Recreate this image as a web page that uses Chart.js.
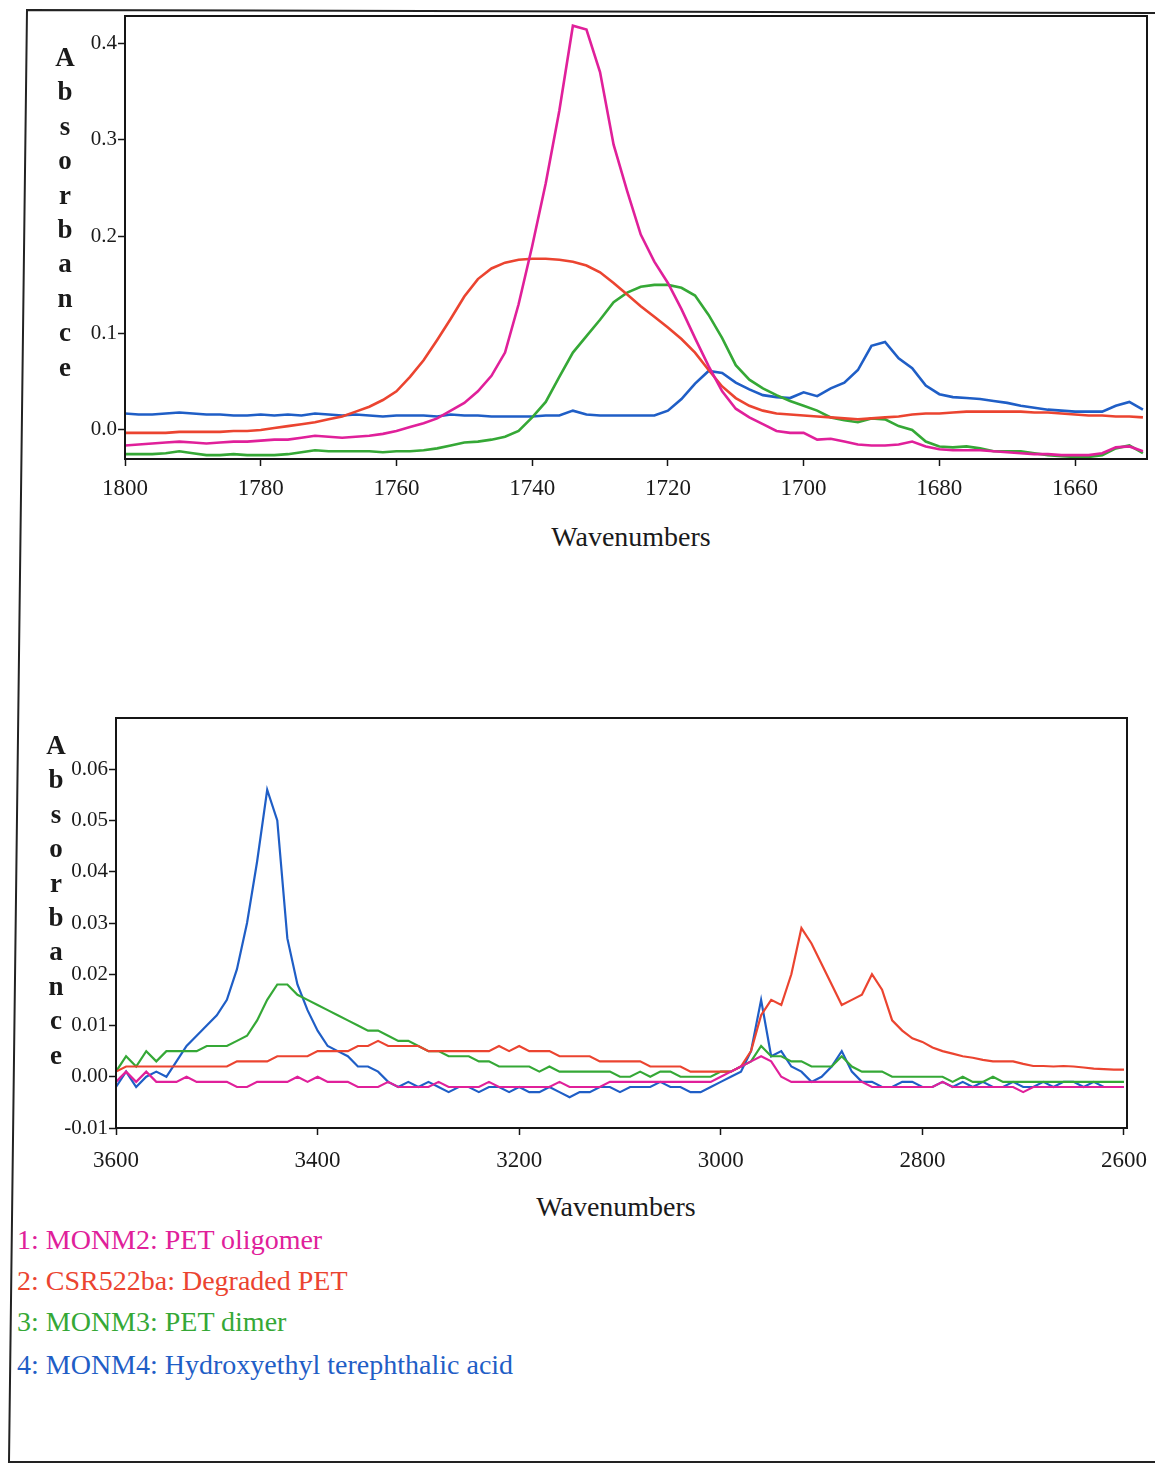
<!DOCTYPE html>
<html>
<head>
<meta charset="utf-8">
<script src="https://cdn.jsdelivr.net/npm/chart.js@4.4.1/dist/chart.umd.min.js"></script>
<style>
  html, body { margin: 0; padding: 0; background: #fff; }
  #page { position: relative; width: 1155px; height: 1466px; overflow: hidden; font-family: "Liberation Serif", "DejaVu Serif", serif; }
  canvas { position: absolute; }
  .ytitle { position: absolute; width: 30px; text-align: center; font-size: 27px; font-weight: bold; line-height: 34.4px; color: #1a1a1a; }
  .xtitle { position: absolute; width: 400px; text-align: center; font-size: 28px; line-height: 32px; color: #1a1a1a; }
  .key { position: absolute; left: 17px; font-size: 28px; line-height: 32px; white-space: nowrap; }
</style>
</head>
<body>
<div id="page">
  <svg width="1155" height="1466" style="position:absolute;left:0;top:0">
    <polyline points="1155,13 27,10 9,1462 1155,1462" fill="none" stroke="#222" stroke-width="2"/>
  </svg>
  <canvas id="top" width="1130" height="520" style="left:25px;top:0"></canvas>
  <canvas id="bottom" width="1139" height="480" style="left:16px;top:700px"></canvas>
  <div class="ytitle" style="left:50px;top:40px">A<br>b<br>s<br>o<br>r<br>b<br>a<br>n<br>c<br>e</div>
  <div class="ytitle" style="left:41px;top:728px">A<br>b<br>s<br>o<br>r<br>b<br>a<br>n<br>c<br>e</div>
  <div class="xtitle" style="left:431px;top:521px">Wavenumbers</div>
  <div class="xtitle" style="left:416px;top:1191px">Wavenumbers</div>
  <div id="keys"></div>
</div>
<script>
// IR spectra of PET samples: carbonyl region (top) and OH/CH region (bottom).
const seriesNames = ["1: MONM2: PET oligomer", "2: CSR522ba: Degraded PET", "3: MONM3: PET dimer", "4: MONM4: Hydroxyethyl terephthalic acid"];
const seriesColors = ["#e0209a", "#eb4430", "#35a836", "#1f5ec6"];

// top panel, 1800-1650 cm-1
const topWavenumbers = [
  1800, 1798, 1796, 1794, 1792, 1790, 1788, 1786, 1784, 1782,
  1780, 1778, 1776, 1774, 1772, 1770, 1768, 1766, 1764, 1762,
  1760, 1758, 1756, 1754, 1752, 1750, 1748, 1746, 1744, 1742,
  1740, 1738, 1736, 1734, 1732, 1730, 1728, 1726, 1724, 1722,
  1720, 1718, 1716, 1714, 1712, 1710, 1708, 1706, 1704, 1702,
  1700, 1698, 1696, 1694, 1692, 1690, 1688, 1686, 1684, 1682,
  1680, 1678, 1676, 1674, 1672, 1670, 1668, 1666, 1664, 1662,
  1660, 1658, 1656, 1654, 1652, 1650
];
const topOligomer = [
  -0.016, -0.015, -0.014, -0.013, -0.012, -0.013, -0.014, -0.013, -0.012, -0.012,
  -0.011, -0.010, -0.010, -0.008, -0.006, -0.007, -0.008, -0.007, -0.006, -0.004,
  -0.001, 0.003, 0.007, 0.012, 0.020, 0.028, 0.040, 0.056, 0.080, 0.130,
  0.190, 0.255, 0.330, 0.418, 0.414, 0.370, 0.295, 0.247, 0.202, 0.174,
  0.152, 0.125, 0.095, 0.066, 0.040, 0.022, 0.013, 0.006, -0.001, -0.003,
  -0.003, -0.010, -0.009, -0.012, -0.015, -0.016, -0.016, -0.015, -0.012, -0.017,
  -0.020, -0.021, -0.021, -0.021, -0.022, -0.023, -0.024, -0.025, -0.025, -0.026,
  -0.026, -0.026, -0.024, -0.018, -0.017, -0.022
];
const topDegraded = [
  -0.003, -0.003, -0.003, -0.003, -0.002, -0.002, -0.002, -0.002, -0.001, -0.001,
  0.000, 0.002, 0.004, 0.006, 0.008, 0.011, 0.014, 0.019, 0.024, 0.031,
  0.040, 0.055, 0.072, 0.093, 0.115, 0.138, 0.156, 0.167, 0.173, 0.176,
  0.177, 0.177, 0.176, 0.174, 0.170, 0.163, 0.152, 0.140, 0.128, 0.117,
  0.106, 0.094, 0.080, 0.062, 0.045, 0.033, 0.025, 0.020, 0.017, 0.016,
  0.015, 0.014, 0.013, 0.012, 0.011, 0.012, 0.013, 0.014, 0.016, 0.017,
  0.017, 0.018, 0.019, 0.019, 0.019, 0.019, 0.019, 0.018, 0.018, 0.017,
  0.016, 0.015, 0.015, 0.014, 0.014, 0.013
];
const topDimer = [
  -0.025, -0.025, -0.025, -0.024, -0.022, -0.024, -0.026, -0.026, -0.025, -0.026,
  -0.026, -0.026, -0.025, -0.023, -0.021, -0.022, -0.022, -0.022, -0.022, -0.023,
  -0.022, -0.022, -0.021, -0.019, -0.016, -0.013, -0.012, -0.010, -0.007, -0.001,
  0.013, 0.029, 0.055, 0.080, 0.097, 0.114, 0.132, 0.142, 0.148, 0.150,
  0.150, 0.147, 0.139, 0.119, 0.095, 0.067, 0.052, 0.043, 0.036, 0.030,
  0.025, 0.020, 0.013, 0.010, 0.008, 0.012, 0.011, 0.004, 0.000, -0.012,
  -0.017, -0.018, -0.017, -0.019, -0.022, -0.022, -0.022, -0.024, -0.026, -0.027,
  -0.028, -0.028, -0.026, -0.019, -0.016, -0.024
];
const topAcid = [
  0.017, 0.016, 0.016, 0.017, 0.018, 0.017, 0.016, 0.016, 0.015, 0.015,
  0.016, 0.015, 0.016, 0.015, 0.017, 0.016, 0.015, 0.016, 0.015, 0.014,
  0.015, 0.015, 0.015, 0.014, 0.016, 0.015, 0.015, 0.014, 0.014, 0.014,
  0.014, 0.015, 0.015, 0.020, 0.016, 0.015, 0.015, 0.015, 0.015, 0.015,
  0.020, 0.032, 0.048, 0.061, 0.059, 0.049, 0.042, 0.036, 0.034, 0.033,
  0.039, 0.035, 0.043, 0.049, 0.062, 0.087, 0.091, 0.074, 0.064, 0.046,
  0.037, 0.034, 0.033, 0.032, 0.030, 0.028, 0.025, 0.023, 0.021, 0.020,
  0.019, 0.019, 0.019, 0.025, 0.029, 0.021
];
const topXTicks = [1800, 1780, 1760, 1740, 1720, 1700, 1680, 1660];
const topYTicks = [0.0, 0.1, 0.2, 0.3, 0.4];

// bottom panel, 3600-2600 cm-1
const bottomWavenumbers = [
  3600, 3590, 3580, 3570, 3560, 3550, 3540, 3530, 3520, 3510,
  3500, 3490, 3480, 3470, 3460, 3450, 3440, 3430, 3420, 3410,
  3400, 3390, 3380, 3370, 3360, 3350, 3340, 3330, 3320, 3310,
  3300, 3290, 3280, 3270, 3260, 3250, 3240, 3230, 3220, 3210,
  3200, 3190, 3180, 3170, 3160, 3150, 3140, 3130, 3120, 3110,
  3100, 3090, 3080, 3070, 3060, 3050, 3040, 3030, 3020, 3010,
  3000, 2990, 2980, 2970, 2960, 2950, 2940, 2930, 2920, 2910,
  2900, 2890, 2880, 2870, 2860, 2850, 2840, 2830, 2820, 2810,
  2800, 2790, 2780, 2770, 2760, 2750, 2740, 2730, 2720, 2710,
  2700, 2690, 2680, 2670, 2660, 2650, 2640, 2630, 2620, 2610,
  2600
];
const bottomOligomer = [
  -0.001, 0.001, -0.001, 0.001, -0.001, -0.001, -0.001, 0.000, -0.001, -0.001,
  -0.001, -0.001, -0.002, -0.002, -0.001, -0.001, -0.001, -0.001, 0.000, -0.001,
  0.000, -0.001, -0.001, -0.001, -0.002, -0.002, -0.002, -0.001, -0.002, -0.002,
  -0.002, -0.002, -0.001, -0.002, -0.002, -0.002, -0.002, -0.001, -0.002, -0.002,
  -0.002, -0.002, -0.002, -0.002, -0.001, -0.002, -0.002, -0.002, -0.002, -0.001,
  -0.001, -0.001, -0.001, -0.001, -0.001, -0.001, -0.001, -0.001, -0.001, -0.001,
  0.000, 0.001, 0.002, 0.003, 0.004, 0.003, 0.000, -0.001, -0.001, -0.001,
  -0.001, -0.001, -0.001, -0.001, -0.001, -0.002, -0.002, -0.002, -0.002, -0.002,
  -0.002, -0.002, -0.001, -0.002, -0.002, -0.002, -0.002, -0.002, -0.002, -0.002,
  -0.003, -0.002, -0.002, -0.002, -0.002, -0.002, -0.002, -0.002, -0.002, -0.002,
  -0.002
];
const bottomDegraded = [
  0.001, 0.002, 0.002, 0.002, 0.002, 0.002, 0.002, 0.002, 0.002, 0.002,
  0.002, 0.002, 0.003, 0.003, 0.003, 0.003, 0.004, 0.004, 0.004, 0.004,
  0.005, 0.005, 0.005, 0.005, 0.006, 0.006, 0.007, 0.006, 0.006, 0.006,
  0.006, 0.005, 0.005, 0.005, 0.005, 0.005, 0.005, 0.005, 0.006, 0.005,
  0.006, 0.005, 0.005, 0.005, 0.004, 0.004, 0.004, 0.004, 0.003, 0.003,
  0.003, 0.003, 0.003, 0.002, 0.002, 0.002, 0.002, 0.001, 0.001, 0.001,
  0.001, 0.001, 0.002, 0.005, 0.012, 0.015, 0.014, 0.020, 0.029, 0.026,
  0.022, 0.018, 0.014, 0.015, 0.016, 0.020, 0.017, 0.011, 0.009, 0.0075,
  0.0068, 0.0057, 0.005, 0.0045, 0.004, 0.0037, 0.0033, 0.003, 0.003, 0.003,
  0.0025, 0.0021, 0.0021, 0.002, 0.0021, 0.002, 0.0018, 0.0016, 0.0015, 0.0014,
  0.0014
];
const bottomDimer = [
  0.001, 0.004, 0.002, 0.005, 0.003, 0.005, 0.005, 0.005, 0.005, 0.006,
  0.006, 0.006, 0.007, 0.008, 0.011, 0.015, 0.018, 0.018, 0.016, 0.015,
  0.014, 0.013, 0.012, 0.011, 0.010, 0.009, 0.009, 0.008, 0.007, 0.007,
  0.006, 0.005, 0.005, 0.004, 0.004, 0.004, 0.003, 0.003, 0.002, 0.002,
  0.002, 0.002, 0.001, 0.002, 0.001, 0.001, 0.001, 0.001, 0.001, 0.001,
  0.000, 0.000, 0.001, 0.000, 0.001, 0.001, 0.000, 0.000, 0.000, 0.000,
  0.001, 0.001, 0.002, 0.003, 0.006, 0.004, 0.004, 0.003, 0.003, 0.002,
  0.002, 0.002, 0.004, 0.002, 0.001, 0.001, 0.001, 0.000, 0.000, 0.000,
  0.000, 0.000, 0.000, -0.001, 0.000, -0.001, -0.001, 0.000, -0.001, -0.001,
  -0.001, -0.001, -0.001, -0.001, -0.001, -0.001, -0.001, -0.001, -0.001, -0.001,
  -0.001
];
const bottomAcid = [
  -0.002, 0.001, -0.002, 0.000, 0.001, 0.000, 0.003, 0.006, 0.008, 0.010,
  0.012, 0.015, 0.021, 0.030, 0.042, 0.056, 0.050, 0.027, 0.018, 0.013,
  0.009, 0.006, 0.005, 0.004, 0.002, 0.002, 0.001, -0.001, -0.002, -0.001,
  -0.002, -0.001, -0.002, -0.003, -0.002, -0.002, -0.003, -0.002, -0.002, -0.003,
  -0.002, -0.003, -0.003, -0.002, -0.003, -0.004, -0.003, -0.003, -0.002, -0.002,
  -0.003, -0.002, -0.002, -0.002, -0.001, -0.002, -0.002, -0.003, -0.003, -0.002,
  -0.001, 0.000, 0.001, 0.005, 0.015, 0.004, 0.005, 0.002, 0.001, -0.001,
  0.000, 0.002, 0.005, 0.001, -0.001, -0.001, -0.002, -0.002, -0.001, -0.001,
  -0.002, -0.002, -0.001, -0.002, -0.001, -0.002, -0.001, -0.002, -0.002, -0.001,
  -0.002, -0.002, -0.001, -0.002, -0.001, -0.001, -0.002, -0.001, -0.002, -0.002,
  -0.002
];
const bottomXTicks = [3600, 3400, 3200, 3000, 2800, 2600];
const bottomYTicks = [-0.01, 0.00, 0.01, 0.02, 0.03, 0.04, 0.05, 0.06];

const serif = "'Liberation Serif', 'DejaVu Serif', serif";

// black box round the plot area
const frameBox = {
  id: "frameBox",
  afterDraw(chart) {
    const a = chart.chartArea, ctx = chart.ctx;
    ctx.save();
    ctx.strokeStyle = "#151515";
    ctx.lineWidth = 2;
    ctx.strokeRect(a.left, a.top, a.right - a.left, a.bottom - a.top);
    ctx.restore();
  },
};

function makeChart(id, xs, ys, cfg) {
  const datasets = ys.map((vals, i) => ({
    label: seriesNames[i],
    data: xs.map((x, j) => ({ x: x, y: vals[j] })),
    borderColor: seriesColors[i],
    borderWidth: cfg.lineWidth,
    pointRadius: 0,
    tension: 0,
    fill: false,
  }));
  const gridOpts = { drawOnChartArea: false, drawTicks: true, tickLength: 7, tickColor: "#151515", tickWidth: 1.5 };
  return new Chart(document.getElementById(id), {
    type: "line",
    data: { datasets: datasets },
    options: {
      responsive: false,
      animation: false,
      devicePixelRatio: 1,
      layout: { padding: cfg.padding },
      plugins: { legend: { display: false }, tooltip: { enabled: false } },
      scales: {
        x: {
          type: "linear",
          reverse: true,
          min: cfg.xMin,
          max: cfg.xMax,
          grid: gridOpts,
          border: { display: false },
          afterBuildTicks: (s) => { s.ticks = cfg.xTicks.map((v) => ({ value: v })); },
          afterFit: (s) => { s.height = cfg.xHeight; s.paddingLeft = 0; s.paddingRight = 0; },
          ticks: {
            autoSkip: false, maxRotation: 0, padding: cfg.xPad, color: "#1a1a1a",
            font: { family: serif, size: 23 },
            callback: (v) => String(v),
          },
        },
        y: {
          min: cfg.yMin,
          max: cfg.yMax,
          grid: gridOpts,
          border: { display: false },
          afterBuildTicks: (s) => { s.ticks = cfg.yTicks.map((v) => ({ value: v })); },
          afterFit: (s) => { s.width = 100; s.paddingTop = 0; s.paddingBottom = 0; },
          ticks: {
            padding: 1, color: "#1a1a1a",
            font: { family: serif, size: 21 },
            callback: (v) => v.toFixed(cfg.digits),
          },
        },
      },
    },
    plugins: [frameBox],
  });
}

makeChart("top", topWavenumbers, [topOligomer, topDegraded, topDimer, topAcid], {
  lineWidth: 2.6, padding: { top: 16, right: 8, left: 0, bottom: 0 },
  xMin: 1649.4, xMax: 1800, xTicks: topXTicks, xHeight: 61, xPad: 9,
  yMin: -0.030, yMax: 0.428, yTicks: topYTicks, digits: 1,
});

makeChart("bottom", bottomWavenumbers, [bottomOligomer, bottomDegraded, bottomDimer, bottomAcid], {
  lineWidth: 2.2, padding: { top: 18, right: 28, left: 0, bottom: 0 },
  xMin: 2597, xMax: 3600, xTicks: bottomXTicks, xHeight: 52, xPad: 12,
  yMin: -0.010, yMax: 0.070, yTicks: bottomYTicks, digits: 2,
});

// coloured key under the lower panel
const keyTops = [1224, 1265, 1306, 1349];
const keys = document.getElementById("keys");
seriesNames.forEach((name, i) => {
  const d = document.createElement("div");
  d.className = "key";
  d.style.top = keyTops[i] + "px";
  d.style.color = seriesColors[i];
  d.textContent = name;
  keys.appendChild(d);
});
</script>
</body>
</html>
